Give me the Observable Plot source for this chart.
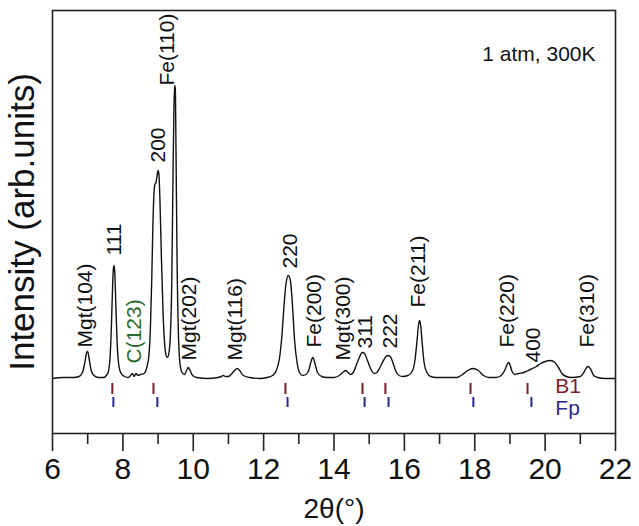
<!DOCTYPE html>
<html>
<head>
<meta charset="utf-8">
<script src="https://cdn.jsdelivr.net/npm/d3@7"></script>
<script src="https://cdn.jsdelivr.net/npm/@observablehq/plot@0.6"></script>
<style>
  html, body { margin: 0; padding: 0; background: #fff; }
  #chart svg { display: block; }
</style>
</head>
<body>
<div id="chart"></div>
<script>
// Diffraction pattern (2θ in degrees, intensity in arb. units)
const twoTheta = [6.0,6.3,6.6,6.75,6.85,6.92,6.97,7.0,7.04,7.1,7.18,7.3,7.45,7.53,7.58,7.63,7.67,7.7,7.73,7.75,7.77,7.8,7.84,7.89,7.95,8.05,8.15,8.22,8.27,8.32,8.37,8.43,8.5,8.6,8.68,8.74,8.78,8.82,8.85,8.88,8.91,8.94,8.97,9.0,9.02,9.05,9.09,9.14,9.19,9.24,9.27,9.31,9.35,9.39,9.42,9.45,9.47,9.49,9.51,9.54,9.58,9.62,9.68,9.75,9.81,9.86,9.91,9.98,10.1,10.4,10.7,10.8,10.85,10.92,11.0,11.1,11.2,11.26,11.32,11.42,11.6,11.9,12.1,12.25,12.35,12.45,12.52,12.58,12.64,12.7,12.76,12.82,12.88,12.95,13.02,13.1,13.2,13.28,13.34,13.4,13.46,13.53,13.65,13.8,14.0,14.15,14.25,14.33,14.4,14.47,14.55,14.63,14.72,14.8,14.87,14.95,15.05,15.15,15.22,15.32,15.42,15.52,15.6,15.68,15.76,15.85,15.95,16.1,16.22,16.3,16.36,16.4,16.43,16.46,16.5,16.56,16.64,16.75,16.9,17.2,17.5,17.65,17.8,17.95,18.1,18.25,18.4,18.6,18.75,18.85,18.92,18.96,19.0,19.06,19.14,19.24,19.4,19.58,19.75,19.87,20.0,20.15,20.28,20.38,20.48,20.6,20.75,21.0,21.1,21.18,21.23,21.3,21.38,21.5,21.7,22.0];
const intensity = [0,1,1,2,6,16,26,27,20,8,3,1,1,3,6,18,48,83,110,113,106,73,33,12,5,2,1,3,5,2,5,3,4,5,11,23,48,98,148,183,194,196,202,208,206,183,128,68,33,22,21,26,43,98,188,268,293,290,228,118,43,16,6,4,8,11,8,3,1,0,1,2,3,2,2,5,9,10,8,3,1,0,1,3,7,20,43,73,96,103,98,73,38,16,6,3,4,8,16,21,15,6,2,1,1,3,6,8,6,4,6,13,21,26,25,18,9,5,6,12,19,23,22,15,7,3,2,3,7,18,38,53,58,54,38,16,6,2,1,1,1,4,8,10,8,3,1,1,3,8,14,16,14,7,4,5,6,9,12,15,17,18,16,11,5,2,1,2,6,11,12,9,3,1,0,0];

// Reflection markers
const b1Positions = [7.70, 8.87, 12.62, 14.81, 15.46, 17.88, 19.50];
const fpPositions = [7.73, 8.98, 12.68, 14.87, 15.55, 17.96, 19.61];
const phaseNames = ["B1", "Fp"];
const phaseColors = ["#7a1f2b", "#2b2a8c"];

// Peak annotations (2θ, intensity where the label starts)
const peakLabels = ["Mgt(104)","111","C(123)","200","Fe(110)","Mgt(202)","Mgt(116)","220","Fe(200)","Mgt(300)","311","222","Fe(211)","Fe(220)","400","Fe(310)"];
const peakLabelTheta = [6.94,7.76,8.33,9.01,9.27,9.89,11.20,12.76,13.45,14.27,14.89,15.60,16.40,18.93,19.67,21.20];
const peakLabelI = [31,123,15,216,293,18,18,110,31,18,30,30,71,31,16,31];
const peakLabelColor = ["#111","#111","#2d6b2d","#111","#111","#111","#111","#111","#111","#111","#111","#111","#111","#111","#111","#111"];

const xMajor = [6, 8, 10, 12, 14, 16, 18, 20, 22];
const xMinor = [7, 9, 11, 13, 15, 17, 19, 21];

const pattern = twoTheta.map((t, i) => ({t, I: intensity[i]}));
const labels = peakLabels.map((s, i) => ({s, t: peakLabelTheta[i], I: peakLabelI[i], c: peakLabelColor[i]}));
const ticks = [
  ...b1Positions.map(t => ({t, y1: -5, y2: -16, c: phaseColors[0]})),
  ...fpPositions.map(t => ({t, y1: -19, y2: -29, c: phaseColors[1]}))
];
const legend = phaseNames.map((s, i) => ({s, t: 20.29, I: i === 0 ? -14 : -36, c: phaseColors[i]}));

const FONT = "'Liberation Sans', Arial, Helvetica, sans-serif";

const chart = Plot.plot({
  width: 639,
  height: 526,
  marginLeft: 52,
  marginRight: 24,
  marginTop: 10,
  marginBottom: 93,
  style: {fontFamily: FONT, color: "#111", background: "#fff", overflow: "visible"},
  x: {domain: [6, 22]},
  y: {domain: [-55, 368], axis: null},
  marks: [
    Plot.line(pattern, {x: "t", y: "I", stroke: "#111", strokeWidth: 1.4, curve: "monotone-x"}),
    Plot.ruleX(ticks, {x: "t", y1: "y1", y2: "y2", stroke: "c", strokeWidth: 2}),
    Plot.text(legend, {x: "t", y: "I", text: "s", fill: "c", textAnchor: "start", lineAnchor: "bottom", fontSize: 21}),
    Plot.text(labels, {x: "t", y: "I", text: "s", fill: "c", rotate: -90, textAnchor: "start", lineAnchor: "middle", fontSize: 21}),
    Plot.text(["1 atm, 300K"], {frameAnchor: "top-right", dx: -20, dy: 50, textAnchor: "end", lineAnchor: "bottom", fontSize: 21, fill: "#111"}),
    Plot.axisX({ticks: xMajor, tickSize: 18, tickPadding: 6, fontSize: 30, label: null, stroke: "#222", strokeWidth: 1.6, fill: "#111"}),
    Plot.axisX({ticks: xMinor, tickSize: 11, tickFormat: () => "", label: null, stroke: "#222", strokeWidth: 1.6}),
    Plot.text(["2θ(°)"], {frameAnchor: "bottom", dy: 65, lineAnchor: "top", fontSize: 28, fill: "#111"}),
    Plot.text(["Intensity (arb.units)"], {frameAnchor: "left", dx: -30, rotate: -90, textAnchor: "middle", lineAnchor: "middle", fontSize: 35, fill: "#111"}),
    Plot.frame({stroke: "#222", strokeWidth: 1.6})
  ]
});
document.getElementById("chart").appendChild(chart);
</script>
</body>
</html>
